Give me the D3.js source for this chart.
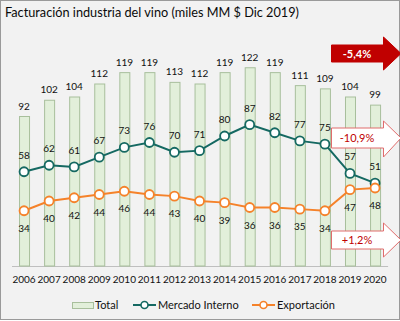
<!DOCTYPE html>
<html>
<head>
<meta charset="utf-8">
<script src="https://cdn.jsdelivr.net/npm/d3@7"></script>
<style>
  body { margin: 0; background: #fff; }
  svg { display: block; font-family: Lato, "Open Sans", sans-serif; }
</style>
</head>
<body>
<div class="canvas"></div>
<script>
const years = ['2006', '2007', '2008', '2009', '2010', '2011', '2012', '2013', '2014', '2015', '2016', '2017', '2018', '2019', '2020'];
const total = [92, 102, 104, 112, 119, 119, 113, 112, 119, 122, 119, 111, 109, 104, 99];
const mercado = [58, 62, 61, 67, 73, 76, 70, 71, 80, 87, 82, 77, 75, 57, 51];
const exportacion = [34, 40, 42, 44, 46, 44, 43, 40, 39, 36, 36, 35, 34, 47, 48];
const changes = ['-5,4%', '-10,9%', '+1,2%'];

const dims = { width: 400, height: 321 };
const green = '#e2efda', greenStroke = '#a8bf9c';
const teal = '#156962', orange = '#f5822a', red = '#c00000';

const svg = d3.select('.canvas')
  .append('svg')
  .attr('width', dims.width)
  .attr('height', dims.height);

svg.append('rect')
  .attr('x', 0.5).attr('y', 0.5)
  .attr('width', dims.width - 1).attr('height', dims.height - 2)
  .attr('fill', '#f2f2f2')
  .attr('stroke', '#9a9a9a');

svg.append('text')
  .attr('x', 5).attr('y', 17)
  .attr('font-size', 14)
  .attr('textLength', 294)
  .attr('lengthAdjust', 'spacingAndGlyphs')
  .attr('fill', '#0a0a0a')
  .text('Facturación industria del vino (miles MM $ Dic 2019)');

const x = d3.scaleBand().domain(years).range([11.5, 387.6]);
const y = d3.scaleLinear().domain([0, 160]).range([266, 6]);
const cx = d => x(d) + x.bandwidth() / 2;
const barW = 10;

// axis baseline + year labels
const xAxis = svg.append('g')
  .attr('transform', `translate(0, ${y(0)})`)
  .call(d3.axisBottom(x).tickSize(0).tickPadding(10));
xAxis.select('.domain').attr('stroke', '#bfbfbf');
xAxis.selectAll('text')
  .attr('font-size', 10)
  .attr('font-family', 'Lato, sans-serif')
  .attr('fill', '#111');

// total bars
svg.append('g').selectAll('rect')
  .data(total)
  .enter().append('rect')
  .attr('x', (d, i) => cx(years[i]) - barW / 2 + 0.5)
  .attr('y', d => y(d))
  .attr('width', barW)
  .attr('height', d => y(0) - y(d))
  .attr('fill', green)
  .attr('stroke', greenStroke)
  .attr('stroke-width', 1);

svg.append('g').selectAll('text')
  .data(total)
  .enter().append('text')
  .attr('x', (d, i) => cx(years[i]))
  .attr('y', d => y(d) - 7)
  .attr('text-anchor', 'middle')
  .attr('font-size', 10)
  .attr('fill', '#111')
  .text(d => d);

const line = d3.line()
  .x((d, i) => cx(years[i]))
  .y(d => y(d));

const drawSeries = (values, color, dy) => {
  const g = svg.append('g');
  g.append('path')
    .attr('d', line(values))
    .attr('fill', 'none')
    .attr('stroke', color)
    .attr('stroke-width', 2);
  g.selectAll('circle')
    .data(values)
    .enter().append('circle')
    .attr('cx', (d, i) => cx(years[i]))
    .attr('cy', d => y(d))
    .attr('r', 4.5)
    .attr('fill', '#fff')
    .attr('stroke', color)
    .attr('stroke-width', 1.8);
  g.selectAll('text')
    .data(values)
    .enter().append('text')
    .attr('x', (d, i) => cx(years[i]))
    .attr('y', d => y(d) + dy)
    .attr('text-anchor', 'middle')
    .attr('font-size', 10)
    .attr('fill', '#111')
    .text(d => d);
};

drawSeries(mercado, teal, -13);
drawSeries(exportacion, orange, 21);

// change arrows on the right edge
const arrow = (x0, x1, xt, top, bot, headTop, headBot) => {
  const mid = (top + bot) / 2;
  return `M${x0},${top}L${x1},${top}L${x1},${headTop}L${xt},${mid}L${x1},${headBot}L${x1},${bot}L${x0},${bot}Z`;
};

const arrows = [
  { label: changes[0], top: 45, bot: 62, ht: 37, hb: 70, filled: true },
  { label: changes[1], top: 128, bot: 148, ht: 121, hb: 157, filled: false },
  { label: changes[2], top: 231, bot: 249, ht: 223, hb: 257, filled: false }
];

const ag = svg.append('g').selectAll('g')
  .data(arrows)
  .enter().append('g');

ag.append('path')
  .attr('d', d => arrow(331.5, 383.5, 401, d.top, d.bot, d.ht, d.hb))
  .attr('fill', d => d.filled ? red : '#fff')
  .attr('stroke', d => d.filled ? red : '#e06c6c')
  .attr('stroke-width', 1);

ag.append('text')
  .attr('x', 357)
  .attr('y', d => (d.top + d.bot) / 2 + 4)
  .attr('text-anchor', 'middle')
  .attr('font-size', 11)
  .attr('font-weight', d => d.filled ? 'bold' : 'normal')
  .attr('fill', d => d.filled ? '#fff' : red)
  .text(d => d.label);

// legend
const legend = svg.append('g').attr('font-size', 11).attr('fill', '#111');
legend.append('rect')
  .attr('x', 72.5).attr('y', 302.5).attr('width', 21).attr('height', 6)
  .attr('fill', green).attr('stroke', greenStroke);
legend.append('text').attr('x', 95).attr('y', 309).text('Total');

const legendItems = [
  { name: 'Mercado Interno', color: teal, x0: 133 },
  { name: 'Exportación', color: orange, x0: 252 }
];
legendItems.forEach(item => {
  legend.append('line')
    .attr('x1', item.x0).attr('x2', item.x0 + 23)
    .attr('y1', 305).attr('y2', 305)
    .attr('stroke', item.color).attr('stroke-width', 2);
  legend.append('circle')
    .attr('cx', item.x0 + 11.5).attr('cy', 305).attr('r', 3.5)
    .attr('fill', '#fff').attr('stroke', item.color).attr('stroke-width', 1.6);
  legend.append('text')
    .attr('x', item.x0 + 25).attr('y', 309)
    .text(item.name);
});
</script>
</body>
</html>
